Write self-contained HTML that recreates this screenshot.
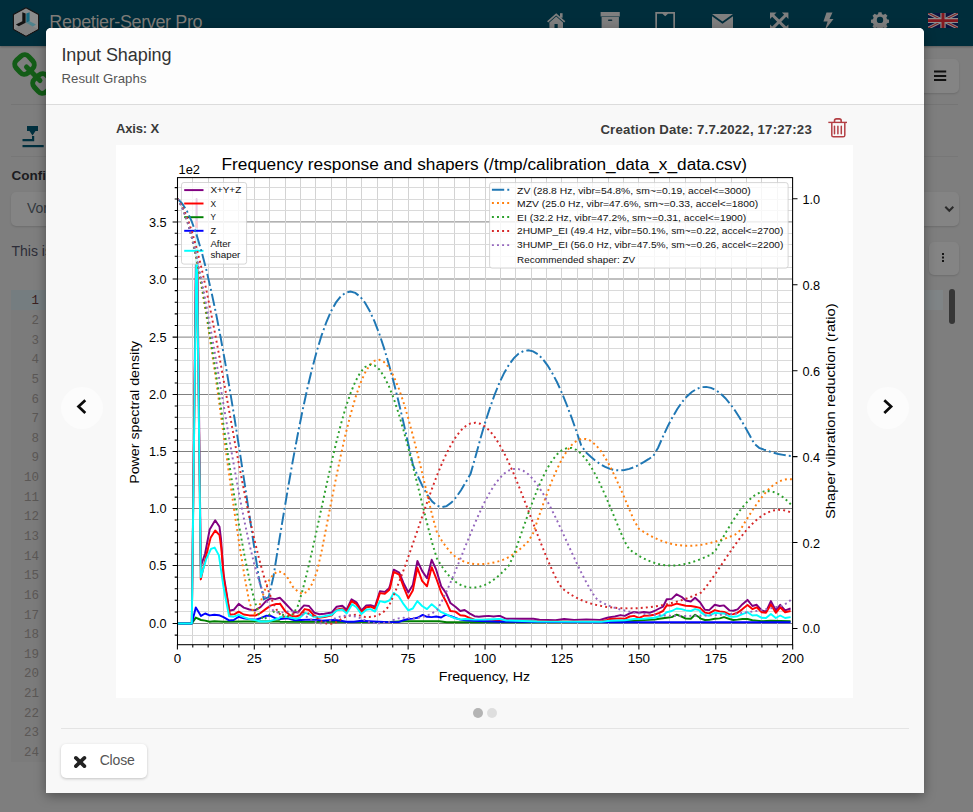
<!DOCTYPE html>
<html><head><meta charset="utf-8"><title>Repetier-Server Pro</title>
<style>
*{box-sizing:border-box;margin:0;padding:0}
html,body{width:973px;height:812px;overflow:hidden}
body{background:#7e7e7e;font-family:"Liberation Sans",sans-serif;position:relative;color:#333}
.abs{position:absolute}
#nav{left:0;top:0;width:973px;height:46px;background:#002d3b;box-shadow:0 1px 2px rgba(0,0,0,.28)}
#brand{left:49.3px;top:10px;font-size:18px;line-height:24px;color:#7f7c78;white-space:nowrap;letter-spacing:-0.38px}
.btn{background:#848484;border-radius:5px;box-shadow:0 1px 2px rgba(0,0,0,.14)}
.hr{height:1px;background:#757575}
.ln{left:9px;width:30px;text-align:right;font-family:"Liberation Mono",monospace;font-size:12.5px;line-height:14px;color:#5b5856}
#modal{left:46px;top:28px;width:878px;height:765px;background:#f8f8f8;border-radius:5px 5px 0 0;box-shadow:0 3px 12px rgba(0,0,0,.36);overflow:hidden}
#mhead{left:0;top:0;width:878px;height:77px;background:#fdfdfd;border-bottom:1px solid #dcdcdc}
#mtitle{left:15.4px;top:15.7px;font-size:18px;line-height:22px;color:#333;white-space:nowrap;letter-spacing:-0.08px}
#msub{left:15.4px;top:42.5px;font-size:13.2px;line-height:16px;color:#555;white-space:nowrap;letter-spacing:0.07px}
.lbl{font-size:13px;font-weight:bold;color:#3a3a3a;line-height:16px;white-space:nowrap}
.circ{width:42px;height:42px;border-radius:21px;background:#fcfcfc}
#close{left:61px;top:744px;width:86px;height:34px;background:#fff;border-radius:5px;box-shadow:0 1px 3px rgba(0,0,0,.22)}
</style></head>
<body>
<!-- dimmed application behind modal -->
<div id="nav" class="abs"></div>
<svg class="abs" style="left:8px;top:4px" width="40" height="38" viewBox="8 4 40 38">
 <polygon points="26,7.700 38.600,14.600 38.600,29.200 26,36.200 13.400,29.200 13.400,14.600" fill="#8b8b8b" stroke="#161212" stroke-width="1.100" stroke-linejoin="round"/>
 <polygon points="14.200,29 26,22.600 37.800,29 26,35.400" fill="#808080"/>
 <path d="M22.300 12.200L25.600 13.600V22.800L18.800 26.300L15.900 24.600L22.300 21.300z" fill="#121212"/>
 <path d="M26.300 13.600L29.600 12.200V21.200L26.300 22.800z" fill="#17687f"/>
 <path d="M26.300 22.800L29.600 21.200L36 24.600L32.800 26.400z" fill="#3f7f8c" fill-opacity="0.800"/>
</svg>
<div id="brand" class="abs">Repetier-Server Pro</div>
<!-- nav icons -->
<svg class="abs" style="left:540px;top:8px" width="433" height="30" viewBox="540 8 433 30" fill="#7f7f7f">
 <path d="M556.200 13.200L565.300 21.200L564.200 22.400L556.200 15.400L548.200 22.400L547.100 21.200z"/>
 <path d="M556.200 16.600L563 22.600V30H557.700V24H554.500V30H549.400V22.600z"/>
 <rect x="560" y="13.200" width="2.600" height="4.500"/>
 <path d="M600.600 12h19.200v4.500h-19.200zM601.600 17.100h17.300V30h-17.300z"/>
 <rect x="608" y="19.400" width="4.300" height="1.500" rx="0.700" fill="#15303b"/>
 <path d="M655.300 12h19.700v18h-19.700zM657 13.700v14.600h16.300V13.700h-5.300l-2.800 2.600l-2.800-2.600z" fill-rule="evenodd"/>
 <path d="M712 14h21l-10.500 7.500zM712 16.200l10.500 7.500l10.500-7.500V29h-21z"/>
 <path d="M770 12.500h6.500l-2.200 2.200l4.900 4.900l4.900-4.900l-2.200-2.200h6.500v6.500l-2.200-2.200l-4.900 4.900l4.900 4.900l2.200-2.200v6.500h-6.500l2.200-2.200l-4.900-4.900l-4.900 4.900l2.200 2.200h-6.500v-6.500l2.200 2.200l4.900-4.900l-4.900-4.900l-2.200 2.200z"/>
 <path d="M826.500 12.500h6l-3 6.500h4l-8.500 11l2.600-8.500h-4.200z"/>
 <g transform="translate(880 19.9) scale(0.86) translate(-880 -21)"><path d="M878.200 12h3.600l.5 2.300l1.900.8l2-1.300l2.500 2.500l-1.300 2l.8 1.900l2.300.5v3.600l-2.300.5l-.8 1.900l1.300 2l-2.500 2.500l-2-1.300l-1.900.8l-.5 2.300h-3.600l-.5-2.300l-1.900-.8l-2 1.300l-2.500-2.500l1.300-2l-.8-1.900l-2.300-.5v-3.600l2.300-.5l.8-1.900l-1.300-2l2.500-2.500l2 1.300l1.900-.8zM880 17.300a3.700 3.700 0 1 0 0 7.400a3.700 3.700 0 1 0 0-7.400z" fill-rule="evenodd"/></g>
</svg>
<!-- flag -->
<svg class="abs" style="left:928px;top:12.7px" width="30" height="15.2" viewBox="0 0 60 32" preserveAspectRatio="none">
 <rect width="60" height="32" fill="#0a1440"/>
 <path d="M0 0L60 32M60 0L0 32" stroke="#8c8c8c" stroke-width="6.500"/>
 <path d="M0 0L60 32M60 0L0 32" stroke="#7c1d22" stroke-width="2.200"/>
 <path d="M30 0V32M0 16H60" stroke="#8c8c8c" stroke-width="10.500"/>
 <path d="M30 0V32M0 16H60" stroke="#83181f" stroke-width="6"/>
</svg>
<!-- left column -->
<svg class="abs" style="left:10px;top:50px" width="40" height="50" viewBox="10 50 40 50" fill="none" stroke="#135c17" stroke-width="5">
 <rect x="16" y="56" width="17" height="17" rx="5.500" transform="rotate(-42 24.500 64.500)"/>
 <rect x="34" y="75" width="17" height="17" rx="5.500" transform="rotate(-42 42.500 83.500)"/>
 <path d="M26.5 67L40 80.5" stroke-linecap="round"/>
</svg>
<div class="abs hr" style="left:11px;top:104px;width:36px"></div>
<svg class="abs" style="left:20px;top:124px" width="26" height="26" viewBox="20 124 26 26" fill="#00303f">
 <path d="M27 126h11v5h-2.500l-3 4.500l-3-4.500H27z"/>
 <path d="M22.500 139h9.500v-3h2.200v5.200H22.500z"/>
 <rect x="22.500" y="145" width="21.200" height="2.200"/>
</svg>
<div class="abs hr" style="left:11px;top:156px;width:36px;background:#777"></div>
<div class="abs" style="left:11.500px;top:168px;font-size:13.500px;font-weight:bold;color:#1b1b20;line-height:16px">Config</div>
<div class="abs btn" style="left:11px;top:192px;width:60px;height:34px"></div>
<div class="abs" style="left:27px;top:199.3px;font-size:14px;color:#33393f;line-height:18px">Vor</div>
<div class="abs" style="left:11.5px;top:241.5px;font-size:14px;color:#2d2d38;line-height:18px;white-space:nowrap">This is</div>
<div class="abs" style="left:11px;top:290px;width:36px;height:472px;background:#7b7b7b"></div>
<div class="abs" style="left:11px;top:290px;width:36px;height:20px;background:#757d80"></div>
<div class="abs" style="left:924px;top:290px;width:19px;height:20px;background:#7f8486"></div>
<div class="abs ln" style="top:294.45px;color:#3a2020">1</div>
<div class="abs ln" style="top:314.08px;color:#5b5856">2</div>
<div class="abs ln" style="top:333.71px;color:#5b5856">3</div>
<div class="abs ln" style="top:353.34px;color:#5b5856">4</div>
<div class="abs ln" style="top:372.97px;color:#5b5856">5</div>
<div class="abs ln" style="top:392.60px;color:#5b5856">6</div>
<div class="abs ln" style="top:412.23px;color:#5b5856">7</div>
<div class="abs ln" style="top:431.86px;color:#5b5856">8</div>
<div class="abs ln" style="top:451.49px;color:#5b5856">9</div>
<div class="abs ln" style="top:471.12px;color:#5b5856">10</div>
<div class="abs ln" style="top:490.75px;color:#5b5856">11</div>
<div class="abs ln" style="top:510.38px;color:#5b5856">12</div>
<div class="abs ln" style="top:530.01px;color:#5b5856">13</div>
<div class="abs ln" style="top:549.64px;color:#5b5856">14</div>
<div class="abs ln" style="top:569.27px;color:#5b5856">15</div>
<div class="abs ln" style="top:588.90px;color:#5b5856">16</div>
<div class="abs ln" style="top:608.53px;color:#5b5856">17</div>
<div class="abs ln" style="top:628.16px;color:#5b5856">18</div>
<div class="abs ln" style="top:647.79px;color:#5b5856">19</div>
<div class="abs ln" style="top:667.42px;color:#5b5856">20</div>
<div class="abs ln" style="top:687.05px;color:#5b5856">21</div>
<div class="abs ln" style="top:706.68px;color:#5b5856">22</div>
<div class="abs ln" style="top:726.31px;color:#5b5856">23</div>
<div class="abs ln" style="top:745.94px;color:#5b5856">24</div>
<!-- right column -->
<div class="abs btn" style="left:900px;top:59px;width:58.500px;height:34px"></div>
<svg class="abs" style="left:934px;top:70px" width="13" height="12" viewBox="0 0 13 12"><path d="M0 1.600h12.200M0 5.900h12.200M0 10.100h12.200" stroke="#111" stroke-width="2"/></svg>
<div class="abs hr" style="left:900px;top:104px;width:58px"></div>
<div class="abs hr" style="left:900px;top:156px;width:58px;background:#777"></div>
<div class="abs btn" style="left:900px;top:192px;width:58.500px;height:34px"></div>
<svg class="abs" style="left:944px;top:205px" width="11" height="8" viewBox="0 0 11 8"><path d="M1.300 1.800L5.300 5.800L9.300 1.800" stroke="#2a2a2a" stroke-width="2" fill="none"/></svg>
<div class="abs btn" style="left:929px;top:242px;width:29.500px;height:32.500px"></div>
<svg class="abs" style="left:941px;top:252px" width="4" height="11" viewBox="0 0 4 11" fill="#151515"><rect x="1" y="1" width="2" height="2"/><rect x="1" y="4.500" width="2" height="2"/><rect x="1" y="8" width="2" height="2"/></svg>
<div class="abs" style="left:949px;top:289px;width:6px;height:35px;border-radius:3px;background:#363636"></div>

<!-- modal -->
<div id="modal" class="abs">
 <div id="mhead" class="abs"></div>
 <div id="mtitle" class="abs">Input Shaping</div>
 <div id="msub" class="abs">Result Graphs</div>
</div>
<div class="abs lbl" style="left:115.9px;top:121.2px;letter-spacing:-0.14px">Axis: X</div>
<div class="abs lbl" style="left:600.4px;top:121.5px;font-size:13.2px;letter-spacing:0.19px">Creation Date: 7.7.2022, 17:27:23</div>
<svg class="abs" style="left:826px;top:116px" width="24" height="24" viewBox="826 116 24 24" fill="none" stroke="#b33f44">
 <path d="M828.300 122.400H847" stroke-width="1.400"/>
 <path d="M834.500 122.200V120.800Q834.500 118.900 836.500 118.900H839.200Q841.200 118.900 841.200 120.800V122.200" stroke-width="1.600"/>
 <path d="M831.800 122.500V135.200Q831.800 136.800 833.400 136.800H843.200Q844.800 136.800 844.800 135.200V122.500" stroke-width="1.500"/>
 <path d="M834.500 126.300V133.700M837.900 126.300V133.700M841.300 126.300V133.700" stroke-width="1.500" stroke-linecap="round"/>
</svg>
<svg id="chart" width="737" height="553" viewBox="116 145 737 553" style="position:absolute;left:116px;top:145px;font-family:'Liberation Sans',sans-serif">
<rect x="116" y="145" width="737" height="553" fill="#fff"/>
<defs><clipPath id="cp"><rect x="177.5" y="177.6" width="615.1" height="467.1"/></clipPath></defs>
<path d="M177.5 623.50H792.6M177.5 565.50H792.6M177.5 508.50H792.6M177.5 451.50H792.6M177.5 394.50H792.6M177.5 337.10H792.6M177.5 279.00H792.6M177.5 221.90H792.6" stroke="#808080" stroke-width="1.0" fill="none"/>
<path d="M177.50 177.6V644.7M192.50 177.6V644.7M208.50 177.6V644.7M223.50 177.6V644.7M238.50 177.6V644.7M254.50 177.6V644.7M269.50 177.6V644.7M285.50 177.6V644.7M300.50 177.6V644.7M315.50 177.6V644.7M331.50 177.6V644.7M346.50 177.6V644.7M361.50 177.6V644.7M377.50 177.6V644.7M392.50 177.6V644.7M408.50 177.6V644.7M423.50 177.6V644.7M438.50 177.6V644.7M454.50 177.6V644.7M469.50 177.6V644.7M485.50 177.6V644.7M500.50 177.6V644.7M515.50 177.6V644.7M531.50 177.6V644.7M546.50 177.6V644.7M561.50 177.6V644.7M577.50 177.6V644.7M592.50 177.6V644.7M608.50 177.6V644.7M623.50 177.6V644.7M638.50 177.6V644.7M654.50 177.6V644.7M669.50 177.6V644.7M685.50 177.6V644.7M700.50 177.6V644.7M715.50 177.6V644.7M731.50 177.6V644.7M746.50 177.6V644.7M761.50 177.6V644.7M777.50 177.6V644.7M792.50 177.6V644.7" stroke="#d3d3d3" stroke-width="1.0" fill="none"/>
<path d="M177.5 635.50H792.6M177.5 611.50H792.6M177.5 600.50H792.6M177.5 588.50H792.6M177.5 577.50H792.6M177.5 554.50H792.6M177.5 542.50H792.6M177.5 531.50H792.6M177.5 519.50H792.6M177.5 497.50H792.6M177.5 485.50H792.6M177.5 474.50H792.6M177.5 462.50H792.6M177.5 440.50H792.6M177.5 428.50H792.6M177.5 417.50H792.6M177.5 405.50H792.6M177.5 383.50H792.6M177.5 371.50H792.6M177.5 360.50H792.6M177.5 348.50H792.6M177.5 325.50H792.6M177.5 313.50H792.6M177.5 302.50H792.6M177.5 290.50H792.6M177.5 267.50H792.6M177.5 256.50H792.6M177.5 244.50H792.6M177.5 233.50H792.6M177.5 210.50H792.6M177.5 199.50H792.6M177.5 187.50H792.6" stroke="#dadada" stroke-width="1.0" fill="none"/>
<g clip-path="url(#cp)" fill="none" stroke-width="1.95" stroke-linejoin="round" stroke-linecap="butt">
<polyline stroke="#800080" points="177.4,623.5 191.8,623.5 196.6,199.0 200.8,566.5 205.1,553.5 209.7,529.5 215.2,520.3 219.5,526.8 221.0,538.8 223.5,573.8 229.4,610.8 233.7,609.8 238.7,603.8 243.8,607.6 249.4,609.5 254.9,610.4 260.5,607.1 266.0,601.2 270.6,598.4 275.2,599.1 278.9,598.0 280.0,597.8 284.9,603.0 293.6,612.2 297.9,612.2 304.0,605.4 309.0,606.0 314.5,612.8 319.5,614.3 324.4,613.7 331.8,612.5 336.7,606.7 342.3,605.8 346.6,609.7 351.5,599.3 356.5,602.3 361.4,610.4 366.3,605.4 370.6,605.2 375.0,606.7 379.9,591.2 384.8,591.9 389.1,588.2 390.0,585.7 393.7,569.7 399.2,572.7 403.6,583.2 408.3,592.5 412.8,585.1 417.4,561.0 422.1,570.9 427.0,578.3 431.7,559.8 436.2,569.7 441.2,586.3 446.1,593.1 450.4,603.0 455.4,606.7 460.3,611.0 464.6,610.0 469.5,613.4 474.5,616.2 478.8,616.8 483.7,616.3 488.7,615.9 493.6,616.5 498.5,615.9 500.0,615.9 506.2,618.8 533.3,618.8 539.5,619.6 555.5,620.2 564.1,619.0 574.0,619.9 586.3,619.4 599.9,619.9 607.3,617.8 610.0,617.1 614.9,616.5 620.5,615.1 624.8,615.9 629.7,613.4 634.0,612.0 639.0,612.8 643.9,612.0 649.5,612.8 654.4,611.0 659.3,608.5 663.0,606.7 666.7,599.3 671.7,598.9 676.6,594.3 681.5,596.8 685.8,600.5 690.8,601.5 695.1,597.8 700.0,602.3 700.0,602.3 704.9,609.7 709.2,610.1 714.8,604.8 719.7,606.0 724.0,605.4 729.6,610.4 733.3,610.7 737.6,609.4 742.5,604.2 747.5,599.9 752.4,606.0 756.7,604.8 761.7,610.4 766.0,611.6 770.9,601.1 775.8,610.4 780.2,604.8 785.1,610.4 790.6,608.5"/>
<polyline stroke="#ff0000" points="177.4,623.5 191.8,623.5 196.6,221.9 200.8,579.4 206.2,555.4 210.6,537.8 215.2,530.5 219.5,535.1 221.3,548.0 223.9,579.4 230.0,614.8 234.6,614.1 238.7,611.7 243.8,614.5 249.4,615.4 255.8,615.4 260.5,613.0 266.0,608.9 270.6,605.6 276.2,603.9 279.3,603.9 280.0,603.6 285.5,611.6 291.1,615.9 296.0,616.5 299.7,615.3 304.7,609.1 309.0,610.0 313.9,615.3 318.2,617.8 324.4,617.1 331.8,615.3 336.7,609.7 342.3,608.5 346.6,612.2 351.5,601.1 356.5,604.2 361.4,612.2 366.3,607.3 370.6,606.7 375.0,608.5 379.9,593.1 384.8,593.7 389.1,590.0 390.0,588.2 393.7,571.9 399.2,574.6 403.6,586.9 408.3,598.3 412.8,590.6 417.4,567.8 422.1,580.8 427.0,586.3 431.7,567.2 436.2,578.3 441.2,592.5 446.1,601.7 450.4,611.0 455.4,611.6 460.3,615.3 464.6,615.7 469.5,617.8 474.5,619.6 478.8,620.0 488.7,619.6 498.5,620.2 500.0,620.5 507.4,621.2 599.9,621.7 607.3,620.0 610.0,619.0 620.5,618.4 624.8,618.8 629.7,616.5 634.0,615.9 639.0,617.8 643.9,615.9 649.5,615.5 654.4,614.7 659.3,612.8 663.0,611.0 666.7,605.4 671.7,605.4 676.6,603.6 681.5,604.8 685.8,605.7 690.8,606.0 695.1,606.7 700.0,607.9 700.0,607.9 704.9,612.6 709.2,613.4 714.8,610.1 719.7,611.4 724.0,612.0 729.6,614.4 733.3,614.1 737.6,612.8 742.5,609.1 747.5,605.1 752.4,609.1 756.7,607.3 761.7,612.2 766.0,612.8 770.9,604.6 775.8,612.8 780.2,607.3 785.1,612.2 790.6,611.0"/>
<polyline stroke="#008000" points="177.4,623.5 191.8,623.5 195.8,617.6 201.0,620.0 205.1,620.6 209.7,621.8 214.3,621.3 223.5,621.8 243.8,621.5 279.3,621.3 280.0,621.7 389.1,622.0 390.0,622.0 404.8,621.2 439.3,621.2 446.7,622.2 498.5,622.2 500.0,622.2 609.8,622.1 610.0,621.7 634.7,620.8 643.9,620.0 654.4,619.6 659.3,618.8 666.7,617.8 671.7,617.1 676.6,614.7 681.5,616.5 685.8,618.6 690.8,618.8 695.1,614.7 700.0,617.8 700.0,618.4 704.9,620.0 709.2,619.9 714.8,618.8 719.7,618.4 724.0,617.1 729.6,619.0 733.3,620.0 737.6,619.6 742.5,619.0 747.5,619.0 752.4,620.2 756.7,620.6 761.7,621.2 770.9,620.8 790.6,621.2"/>
<polyline stroke="#0000ff" points="177.4,623.5 191.8,623.5 195.8,607.4 201.0,615.9 205.1,613.5 209.7,615.4 214.3,614.8 218.9,615.2 223.5,617.2 229.1,620.4 233.7,620.0 238.7,616.7 243.8,618.2 249.4,619.1 255.8,619.6 260.5,618.2 266.0,615.8 270.6,615.9 275.2,618.2 279.3,619.1 280.0,619.0 287.4,618.4 294.8,620.2 301.0,620.0 309.6,619.6 317.0,619.9 321.9,620.8 329.3,620.2 334.3,620.0 339.2,620.5 346.6,621.7 354.0,621.7 361.4,620.8 368.8,621.2 378.7,621.7 389.1,622.1 390.0,622.1 398.6,622.1 403.6,620.2 408.3,619.0 412.8,618.6 417.4,617.8 422.7,614.9 427.0,616.8 431.7,617.1 436.2,616.5 441.2,617.5 445.5,614.9 450.4,615.9 455.4,618.0 460.3,619.6 465.2,620.2 473.9,620.8 498.5,621.7 500.0,621.8 609.8,622.2 610.0,622.2 700.0,622.2 700.0,622.2 790.6,622.2"/>
<polyline stroke="#00ffff" points="177.4,623.5 191.8,623.5 196.6,228.8 200.8,577.2 206.2,559.1 211.0,548.9 214.7,547.6 218.9,555.4 223.5,586.8 229.1,616.3 233.7,616.7 238.7,614.8 243.8,617.2 249.4,619.1 254.9,620.0 260.5,621.5 266.0,621.5 270.6,620.9 276.2,619.1 279.3,618.2 280.0,617.1 286.2,616.8 291.1,617.8 296.0,618.8 299.7,617.8 305.3,612.8 309.0,614.1 313.9,616.9 319.5,617.1 324.4,616.3 331.8,614.7 336.7,610.4 342.3,609.5 346.6,613.4 352.1,604.2 356.5,607.3 361.4,614.1 366.3,609.7 370.6,609.1 375.0,611.6 379.9,601.1 384.8,602.3 389.1,600.5 390.0,599.9 393.7,592.9 398.6,596.2 403.6,604.2 408.3,610.4 412.8,608.5 417.4,601.1 422.1,606.0 427.0,609.1 431.7,604.2 436.2,607.9 441.2,612.2 446.1,614.1 450.4,616.5 455.4,618.4 460.3,619.4 465.2,619.0 473.9,619.6 483.7,619.6 498.5,619.0 500.0,619.0 506.2,620.5 537.0,621.5 601.1,621.7 610.0,620.8 624.8,620.2 634.0,619.0 643.9,618.8 654.4,617.8 663.0,615.3 666.7,612.2 671.7,611.0 676.6,608.5 681.5,609.1 685.8,610.4 690.8,611.0 695.1,609.1 700.0,610.4 700.0,611.6 704.9,615.1 709.2,615.7 714.8,612.8 719.7,613.4 724.0,613.4 729.6,616.5 733.3,616.8 737.6,616.2 742.5,614.1 747.5,612.2 752.4,615.5 756.7,615.1 761.7,617.8 766.0,618.0 770.9,614.1 775.8,618.0 780.2,615.5 785.1,618.0 790.6,617.1"/>
</g>
<rect x="181.5" y="182.5" width="65.1" height="81.6" rx="2.4" fill="#fff" fill-opacity="0.8" stroke="#ccc" stroke-opacity="0.8" stroke-width="1"/>
<path d="M184.2 190.1H203.5" stroke="#800080" stroke-width="1.95"/>
<path d="M184.2 203.5H203.5" stroke="#ff0000" stroke-width="1.95"/>
<path d="M184.2 217.2H203.5" stroke="#008000" stroke-width="1.95"/>
<path d="M184.2 230.8H203.5" stroke="#0000ff" stroke-width="1.95"/>
<path d="M184.2 250.8H203.5" stroke="#00ffff" stroke-width="1.95"/>
<text x="210.4" y="192.9" font-size="9.9" fill="#111" textLength="30.8" lengthAdjust="spacingAndGlyphs">X+Y+Z</text>
<text x="210.4" y="206.5" font-size="9.9" fill="#111" textLength="5.6" lengthAdjust="spacingAndGlyphs">X</text>
<text x="210.4" y="220.3" font-size="9.9" fill="#111" textLength="5.4" lengthAdjust="spacingAndGlyphs">Y</text>
<text x="210.4" y="233.8" font-size="9.9" fill="#111" textLength="5.6" lengthAdjust="spacingAndGlyphs">Z</text>
<text x="210.4" y="246.8" font-size="9.9" fill="#111" textLength="20.3" lengthAdjust="spacingAndGlyphs">After</text>
<text x="210.4" y="257.8" font-size="9.9" fill="#111" textLength="30.0" lengthAdjust="spacingAndGlyphs">shaper</text>
<g clip-path="url(#cp)" fill="none" stroke-width="1.95">
<polyline stroke="#1f77b4" stroke-dasharray="12.3 3.1 1.95 3.1" points="177.4,198.8 182.2,203.5 187.0,211.1 191.8,221.7 196.6,234.9 201.4,250.9 206.2,269.3 211.0,290.0 215.9,312.9 220.7,337.8 225.5,364.4 230.3,392.6 235.1,422.0 239.9,452.6 244.7,484.0 249.5,515.9 254.3,548.0 259.1,579.3 263.9,599.2 268.7,597.1 273.5,576.2 278.3,546.1 283.2,516.6 288.0,488.0 292.8,460.8 297.6,435.2 302.4,411.2 307.2,389.1 312.0,369.0 316.8,351.1 321.6,335.3 326.4,322.0 331.2,311.0 336.0,302.4 340.8,296.3 345.6,292.7 350.5,291.6 355.3,292.9 360.1,296.6 364.9,302.6 369.7,310.9 374.5,321.4 379.3,333.8 384.1,348.3 388.9,364.4 393.7,382.2 398.5,401.4 403.3,421.8 408.1,443.1 412.9,464.8 417.8,476.2 422.6,486.4 427.4,495.1 432.2,501.6 437.0,505.7 441.8,507.2 446.6,506.1 451.4,502.6 456.2,497.1 461.0,490.2 465.8,482.2 470.6,473.8 475.4,457.0 480.2,439.4 485.0,422.9 489.9,407.9 494.7,394.5 499.5,382.7 504.3,372.7 509.1,364.5 513.9,358.1 518.7,353.6 523.5,351.0 528.3,350.3 533.1,351.4 537.9,354.3 542.7,359.0 547.5,365.3 552.3,373.2 557.2,382.5 562.0,393.2 566.8,405.0 571.6,417.7 576.4,431.3 581.2,445.4 586.0,452.4 590.8,456.8 595.6,460.8 600.4,464.2 605.2,466.9 610.0,468.9 614.8,470.1 619.6,470.4 624.5,470.0 629.3,468.9 634.1,467.2 638.9,464.9 643.7,462.2 648.5,459.2 653.3,456.0 658.1,447.7 662.9,436.7 667.7,426.4 672.5,417.2 677.3,409.0 682.1,402.1 686.9,396.4 691.8,392.0 696.6,388.9 701.4,387.2 706.2,386.9 711.0,387.9 715.8,390.1 720.6,393.6 725.4,398.2 730.2,403.9 735.0,410.5 739.8,418.0 744.6,426.1 749.4,434.7 754.2,443.7 759.1,447.8 763.9,449.6 768.7,451.2 773.5,452.7 778.3,454.0 783.1,454.9 787.9,455.7 792.7,456.1"/>
<polyline stroke="#ff7f0e" stroke-dasharray="1.95 3.15" points="177.4,198.8 182.2,206.8 187.0,219.9 191.8,237.7 196.6,259.7 201.4,285.5 206.2,314.4 211.0,345.9 215.9,379.2 220.7,413.6 225.5,448.5 230.3,482.9 235.1,516.4 239.9,548.1 244.7,577.4 249.5,603.1 254.3,613.7 259.1,606.8 263.9,592.2 268.7,581.0 273.5,574.0 278.3,571.2 283.2,572.8 288.0,578.4 292.8,586.7 297.6,591.3 302.4,593.9 307.2,591.8 312.0,584.1 316.8,572.3 321.6,551.3 326.4,526.8 331.2,502.2 336.0,478.2 340.8,455.4 345.6,434.0 350.5,414.8 355.3,398.0 360.1,383.9 364.9,373.0 369.7,365.2 374.5,360.8 379.3,359.7 384.1,362.1 388.9,367.6 393.7,376.2 398.5,387.7 403.3,401.6 408.1,417.8 412.9,435.6 417.8,454.8 422.6,474.8 427.4,495.2 432.2,515.3 437.0,532.6 441.8,540.7 446.6,547.6 451.4,553.1 456.2,557.4 461.0,560.4 465.8,562.4 470.6,563.5 475.4,564.1 480.2,564.2 485.0,563.9 489.9,563.3 494.7,562.4 499.5,561.1 504.3,559.3 509.1,556.9 513.9,553.8 518.7,550.2 523.5,546.0 528.3,541.4 533.1,533.3 537.9,519.3 542.7,505.5 547.5,492.3 552.3,479.9 557.2,468.7 562.0,459.1 566.8,451.1 571.6,445.1 576.4,441.0 581.2,438.9 586.0,438.9 590.8,440.9 595.6,444.8 600.4,450.4 605.2,457.7 610.0,466.3 614.8,476.1 619.6,486.7 624.5,497.9 629.3,509.3 634.1,520.5 638.9,528.9 643.7,531.9 648.5,534.8 653.3,537.3 658.1,539.5 662.9,541.4 667.7,543.0 672.5,544.1 677.3,545.0 682.1,545.5 686.9,545.8 691.8,545.7 696.6,545.4 701.4,544.8 706.2,543.9 711.0,542.8 715.8,541.5 720.6,540.0 725.4,538.4 730.2,536.6 735.0,534.7 739.8,530.7 744.6,522.8 749.4,515.1 754.2,507.6 759.1,500.7 763.9,494.5 768.7,489.2 773.5,484.9 778.3,481.8 783.1,479.8 787.9,479.0 792.7,479.4"/>
<polyline stroke="#2ca02c" stroke-dasharray="1.95 3.15" points="177.4,198.8 182.2,207.0 187.0,220.0 191.8,237.5 196.6,258.9 201.4,283.8 206.2,311.6 211.0,341.7 215.9,373.3 220.7,405.8 225.5,438.5 230.3,470.5 235.1,501.4 239.9,530.3 244.7,556.8 249.5,580.2 254.3,599.9 259.1,614.8 263.9,619.8 268.7,615.2 273.5,611.8 278.3,611.9 283.2,615.0 288.0,616.5 292.8,614.2 297.6,606.7 302.4,590.9 307.2,572.0 312.0,551.4 316.8,529.8 321.6,507.6 326.4,485.4 331.2,463.9 336.0,443.4 340.8,424.6 345.6,407.7 350.5,393.3 355.3,381.6 360.1,372.8 364.9,367.2 369.7,364.7 374.5,365.5 379.3,369.4 384.1,376.4 388.9,386.2 393.7,398.5 398.5,413.0 403.3,429.5 408.1,447.3 412.9,466.2 417.8,485.7 422.6,505.3 427.4,524.6 432.2,543.1 437.0,558.7 441.8,566.4 446.6,573.0 451.4,578.2 456.2,582.3 461.0,585.1 465.8,586.8 470.6,587.6 475.4,587.5 480.2,586.5 485.0,584.8 489.9,582.3 494.7,579.0 499.5,575.0 504.3,570.3 509.1,565.2 513.9,554.7 518.7,541.0 523.5,527.1 528.3,513.5 533.1,500.4 537.9,488.3 542.7,477.5 547.5,468.0 552.3,460.2 557.2,454.2 562.0,450.2 566.8,448.1 571.6,448.0 576.4,449.9 581.2,453.7 586.0,459.2 590.8,466.4 595.6,474.9 600.4,484.6 605.2,495.2 610.0,506.5 614.8,518.1 619.6,529.7 624.5,541.2 629.3,549.4 634.1,552.7 638.9,555.8 643.7,558.4 648.5,560.7 653.3,562.5 658.1,564.0 662.9,564.9 667.7,565.5 672.5,565.6 677.3,565.3 682.1,564.6 686.9,563.6 691.8,562.3 696.6,560.7 701.4,558.8 706.2,556.8 711.0,554.7 715.8,550.0 720.6,541.6 725.4,533.2 730.2,525.1 735.0,517.6 739.8,510.7 744.6,504.7 749.4,499.7 754.2,495.7 759.1,493.0 763.9,491.4 768.7,491.1 773.5,492.0 778.3,494.1 783.1,497.3 787.9,501.4 792.7,506.5"/>
<polyline stroke="#d62728" stroke-dasharray="1.95 3.15" points="177.4,198.8 182.2,206.3 187.0,217.1 191.8,231.2 196.6,248.1 201.4,267.6 206.2,289.3 211.0,312.9 215.9,337.9 220.7,363.9 225.5,390.5 230.3,417.2 235.1,443.7 239.9,469.4 244.7,494.2 249.5,517.5 254.3,539.2 259.1,558.9 263.9,576.4 268.7,591.5 273.5,603.8 278.3,612.6 283.2,616.6 288.0,615.9 292.8,613.8 297.6,612.3 302.4,612.1 307.2,613.0 312.0,615.1 316.8,618.0 321.6,621.3 326.4,623.6 331.2,623.8 336.0,622.3 340.8,619.3 345.6,616.9 350.5,615.3 355.3,614.8 360.1,615.6 364.9,616.9 369.7,616.9 374.5,616.3 379.3,614.6 384.1,611.4 388.9,606.1 393.7,595.4 398.5,583.6 403.3,570.9 408.1,557.5 412.9,543.6 417.8,529.5 422.6,515.4 427.4,501.5 432.2,488.1 437.0,475.5 441.8,463.8 446.6,453.3 451.4,444.1 456.2,436.4 461.0,430.3 465.8,426.0 470.6,423.4 475.4,422.7 480.2,423.7 485.0,426.5 489.9,431.0 494.7,437.0 499.5,444.6 504.3,453.4 509.1,463.3 513.9,474.2 518.7,485.9 523.5,498.0 528.3,510.5 533.1,523.1 537.9,535.6 542.7,547.8 547.5,559.5 552.3,570.5 557.2,580.7 562.0,588.2 566.8,591.8 571.6,595.0 576.4,597.7 581.2,600.0 586.0,601.9 590.8,603.5 595.6,604.8 600.4,605.8 605.2,606.7 610.0,607.3 614.8,607.8 619.6,608.1 624.5,608.3 629.3,608.4 634.1,608.3 638.9,608.1 643.7,607.7 648.5,607.3 653.3,606.6 658.1,605.9 662.9,605.0 667.7,604.0 672.5,602.8 677.3,601.5 682.1,600.0 686.9,598.3 691.8,596.5 696.6,594.5 701.4,592.5 706.2,586.7 711.0,580.1 715.8,573.2 720.6,566.1 725.4,558.9 730.2,551.8 735.0,544.9 739.8,538.4 744.6,532.3 749.4,526.8 754.2,521.9 759.1,517.8 763.9,514.5 768.7,512.1 773.5,510.5 778.3,509.8 783.1,510.1 787.9,511.2 792.7,513.2"/>
<polyline stroke="#9467bd" stroke-dasharray="1.95 3.15" points="177.4,198.8 182.2,207.7 187.0,220.6 191.8,237.1 196.6,256.9 201.4,279.5 206.2,304.4 211.0,331.1 215.9,359.1 220.7,387.7 225.5,416.4 230.3,444.8 235.1,472.2 239.9,498.2 244.7,522.5 249.5,544.6 254.3,564.2 259.1,581.1 263.9,594.9 268.7,605.0 273.5,610.9 278.3,612.7 283.2,612.2 288.0,611.4 292.8,611.5 297.6,612.5 302.4,614.5 307.2,617.1 312.0,620.0 316.8,622.6 321.6,623.5 326.4,622.1 331.2,620.0 336.0,617.9 340.8,616.5 345.6,615.7 350.5,615.7 355.3,616.5 360.1,618.0 364.9,620.2 369.7,622.5 374.5,623.1 379.3,623.3 384.1,622.9 388.9,622.0 393.7,619.9 398.5,618.4 403.3,617.8 408.1,618.1 412.9,618.4 417.8,617.9 422.6,617.0 427.4,615.5 432.2,613.2 437.0,610.1 441.8,601.3 446.6,591.3 451.4,580.5 456.2,569.0 461.0,557.3 465.8,545.3 470.6,533.5 475.4,522.1 480.2,511.3 485.0,501.3 489.9,492.3 494.7,484.6 499.5,478.3 504.3,473.5 509.1,470.4 513.9,468.9 518.7,469.1 523.5,470.9 528.3,474.3 533.1,479.2 537.9,485.5 542.7,493.0 547.5,501.5 552.3,510.8 557.2,520.8 562.0,531.2 566.8,541.7 571.6,552.2 576.4,562.5 581.2,572.4 586.0,581.7 590.8,590.2 595.6,597.8 600.4,601.7 605.2,604.0 610.0,606.1 614.8,607.8 619.6,609.3 624.5,610.5 629.3,611.6 634.1,612.5 638.9,613.2 643.7,613.8 648.5,614.4 653.3,614.8 658.1,615.1 662.9,615.4 667.7,615.6 672.5,615.7 677.3,615.8 682.1,615.9 686.9,615.9 691.8,615.8 696.6,615.8 701.4,615.7 706.2,615.5 711.0,615.3 715.8,615.1 720.6,614.8 725.4,614.5 730.2,614.1 735.0,613.7 739.8,613.2 744.6,612.6 749.4,612.0 754.2,611.3 759.1,610.5 763.9,609.6 768.7,608.7 773.5,607.7 778.3,606.6 783.1,605.5 787.9,602.4 792.7,598.3"/>
</g>
<rect x="489.6" y="182.6" width="298.5" height="85.5" rx="2.4" fill="#fff" fill-opacity="0.8" stroke="#ccc" stroke-opacity="0.8" stroke-width="1"/>
<path d="M491.9 189.8H509.4" stroke="#1f77b4" stroke-width="1.95" stroke-dasharray="12.3 3.1 1.95 3.1"/>
<path d="M491.9 203.0H509.4" stroke="#ff7f0e" stroke-width="1.95" stroke-dasharray="1.95 3.15"/>
<path d="M491.9 217.0H509.4" stroke="#2ca02c" stroke-width="1.95" stroke-dasharray="1.95 3.15"/>
<path d="M491.9 231.0H509.4" stroke="#d62728" stroke-width="1.95" stroke-dasharray="1.95 3.15"/>
<path d="M491.9 245.1H509.4" stroke="#9467bd" stroke-width="1.95" stroke-dasharray="1.95 3.15"/>
<text x="517.1" y="194.0" font-size="9.9" fill="#111" textLength="233.7" lengthAdjust="spacingAndGlyphs">ZV (28.8 Hz, vibr=54.8%, sm~=0.19, accel&lt;=3000)</text>
<text x="517.1" y="207.2" font-size="9.9" fill="#111" textLength="241.1" lengthAdjust="spacingAndGlyphs">MZV (25.0 Hz, vibr=47.6%, sm~=0.33, accel&lt;=1800)</text>
<text x="517.1" y="220.9" font-size="9.9" fill="#111" textLength="229.2" lengthAdjust="spacingAndGlyphs">EI (32.2 Hz, vibr=47.2%, sm~=0.31, accel&lt;=1900)</text>
<text x="517.1" y="234.4" font-size="9.9" fill="#111" textLength="266.2" lengthAdjust="spacingAndGlyphs">2HUMP_EI (49.4 Hz, vibr=50.1%, sm~=0.22, accel&lt;=2700)</text>
<text x="517.1" y="248.4" font-size="9.9" fill="#111" textLength="266.2" lengthAdjust="spacingAndGlyphs">3HUMP_EI (56.0 Hz, vibr=47.5%, sm~=0.26, accel&lt;=2200)</text>
<text x="517.1" y="262.6" font-size="9.9" fill="#111" textLength="117.9" lengthAdjust="spacingAndGlyphs">Recommended shaper: ZV</text>
<rect x="177.5" y="177.6" width="615.1" height="467.1" fill="none" stroke="#000" stroke-width="1.05"/>
<path d="M177.40 644.7v4.9M192.78 644.7v2.8M208.16 644.7v2.8M223.55 644.7v2.8M238.93 644.7v2.8M254.31 644.7v4.9M269.69 644.7v2.8M285.08 644.7v2.8M300.46 644.7v2.8M315.84 644.7v2.8M331.23 644.7v4.9M346.61 644.7v2.8M361.99 644.7v2.8M377.37 644.7v2.8M392.75 644.7v2.8M408.14 644.7v4.9M423.52 644.7v2.8M438.90 644.7v2.8M454.28 644.7v2.8M469.67 644.7v2.8M485.05 644.7v4.9M500.43 644.7v2.8M515.81 644.7v2.8M531.20 644.7v2.8M546.58 644.7v2.8M561.96 644.7v4.9M577.35 644.7v2.8M592.73 644.7v2.8M608.11 644.7v2.8M623.49 644.7v2.8M638.88 644.7v4.9M654.26 644.7v2.8M669.64 644.7v2.8M685.02 644.7v2.8M700.40 644.7v2.8M715.79 644.7v4.9M731.17 644.7v2.8M746.55 644.7v2.8M761.93 644.7v2.8M777.32 644.7v2.8M792.70 644.7v4.9M177.5 635.10h-2.8M177.5 623.50h-4.9M177.5 611.90h-2.8M177.5 600.30h-2.8M177.5 588.70h-2.8M177.5 577.10h-2.8M177.5 565.50h-4.9M177.5 554.10h-2.8M177.5 542.70h-2.8M177.5 531.30h-2.8M177.5 519.90h-2.8M177.5 508.50h-4.9M177.5 497.10h-2.8M177.5 485.70h-2.8M177.5 474.30h-2.8M177.5 462.90h-2.8M177.5 451.50h-4.9M177.5 440.10h-2.8M177.5 428.70h-2.8M177.5 417.30h-2.8M177.5 405.90h-2.8M177.5 394.50h-4.9M177.5 383.02h-2.8M177.5 371.54h-2.8M177.5 360.06h-2.8M177.5 348.58h-2.8M177.5 337.10h-4.9M177.5 325.48h-2.8M177.5 313.86h-2.8M177.5 302.24h-2.8M177.5 290.62h-2.8M177.5 279.00h-4.9M177.5 267.58h-2.8M177.5 256.16h-2.8M177.5 244.74h-2.8M177.5 233.32h-2.8M177.5 221.90h-4.9M177.5 210.48h-2.8M177.5 199.06h-2.8M177.5 187.64h-2.8M792.6 628.50h4.9M792.6 542.56h4.9M792.6 456.62h4.9M792.6 370.68h4.9M792.6 284.74h4.9M792.6 198.80h4.9" stroke="#000" stroke-width="1.05" fill="none"/>
<text x="177.4" y="662.5" font-size="13.0" text-anchor="middle" textLength="7.4" lengthAdjust="spacingAndGlyphs">0</text>
<text x="254.3" y="662.5" font-size="13.0" text-anchor="middle" textLength="15.0" lengthAdjust="spacingAndGlyphs">25</text>
<text x="331.2" y="662.5" font-size="13.0" text-anchor="middle" textLength="15.0" lengthAdjust="spacingAndGlyphs">50</text>
<text x="408.1" y="662.5" font-size="13.0" text-anchor="middle" textLength="15.0" lengthAdjust="spacingAndGlyphs">75</text>
<text x="485.0" y="662.5" font-size="13.0" text-anchor="middle" textLength="22.4" lengthAdjust="spacingAndGlyphs">100</text>
<text x="562.0" y="662.5" font-size="13.0" text-anchor="middle" textLength="22.4" lengthAdjust="spacingAndGlyphs">125</text>
<text x="638.9" y="662.5" font-size="13.0" text-anchor="middle" textLength="22.4" lengthAdjust="spacingAndGlyphs">150</text>
<text x="715.8" y="662.5" font-size="13.0" text-anchor="middle" textLength="22.4" lengthAdjust="spacingAndGlyphs">175</text>
<text x="792.7" y="662.5" font-size="13.0" text-anchor="middle" textLength="22.4" lengthAdjust="spacingAndGlyphs">200</text>
<text x="149.0" y="628.2" font-size="13.0" textLength="17.7" lengthAdjust="spacingAndGlyphs">0.0</text>
<text x="149.0" y="570.2" font-size="13.0" textLength="17.7" lengthAdjust="spacingAndGlyphs">0.5</text>
<text x="149.0" y="513.2" font-size="13.0" textLength="17.7" lengthAdjust="spacingAndGlyphs">1.0</text>
<text x="149.0" y="456.2" font-size="13.0" textLength="17.7" lengthAdjust="spacingAndGlyphs">1.5</text>
<text x="149.0" y="399.2" font-size="13.0" textLength="17.7" lengthAdjust="spacingAndGlyphs">2.0</text>
<text x="149.0" y="341.8" font-size="13.0" textLength="17.7" lengthAdjust="spacingAndGlyphs">2.5</text>
<text x="149.0" y="283.7" font-size="13.0" textLength="17.7" lengthAdjust="spacingAndGlyphs">3.0</text>
<text x="149.0" y="226.6" font-size="13.0" textLength="17.7" lengthAdjust="spacingAndGlyphs">3.5</text>
<text x="802.4" y="633.4" font-size="13.0" textLength="17.7" lengthAdjust="spacingAndGlyphs">0.0</text>
<text x="802.4" y="547.5" font-size="13.0" textLength="17.7" lengthAdjust="spacingAndGlyphs">0.2</text>
<text x="802.4" y="461.5" font-size="13.0" textLength="17.7" lengthAdjust="spacingAndGlyphs">0.4</text>
<text x="802.4" y="375.6" font-size="13.0" textLength="17.7" lengthAdjust="spacingAndGlyphs">0.6</text>
<text x="802.4" y="289.6" font-size="13.0" textLength="17.7" lengthAdjust="spacingAndGlyphs">0.8</text>
<text x="802.4" y="203.7" font-size="13.0" textLength="17.7" lengthAdjust="spacingAndGlyphs">1.0</text>
<text x="178.5" y="173.6" font-size="13.0" textLength="21.5" lengthAdjust="spacingAndGlyphs">1e2</text>
<text x="484.4" y="681.1" font-size="13.0" text-anchor="middle" textLength="91.2" lengthAdjust="spacingAndGlyphs">Frequency, Hz</text>
<text transform="translate(139.3 412.3) rotate(-90)" font-size="13.0" text-anchor="middle" textLength="143" lengthAdjust="spacingAndGlyphs">Power spectral density</text>
<text transform="translate(835.3 411.2) rotate(-90)" font-size="13.0" text-anchor="middle" textLength="215.8" lengthAdjust="spacingAndGlyphs">Shaper vibration reduction (ratio)</text>
<text x="484.3" y="170.1" font-size="15.6" text-anchor="middle" textLength="525.5" lengthAdjust="spacingAndGlyphs">Frequency response and shapers (/tmp/calibration_data_x_data.csv)</text>
</svg>
<div class="abs circ" style="left:60.500px;top:386.500px"></div>
<div class="abs circ" style="left:867.200px;top:386.700px"></div>
<svg class="abs" style="left:70px;top:395px" width="24" height="24" viewBox="70 395 24 24" fill="none" stroke="#0a0a0a" stroke-width="2.700"><path d="M85.300 400.200L78.500 406.600L85.300 413"/></svg>
<svg class="abs" style="left:876px;top:395px" width="24" height="24" viewBox="876 395 24 24" fill="none" stroke="#0a0a0a" stroke-width="2.700"><path d="M884.300 400.200L891.100 406.600L884.300 413"/></svg>
<div class="abs" style="left:473px;top:708px;width:10px;height:10px;border-radius:5px;background:#b4b4b4"></div>
<div class="abs" style="left:487px;top:708px;width:10px;height:10px;border-radius:5px;background:#dedede"></div>
<div class="abs" style="left:61px;top:728px;width:848px;height:1px;background:#e4e4e4"></div>
<div id="close" class="abs"></div>
<svg class="abs" style="left:72px;top:754px" width="16" height="16" viewBox="72 754 16 16"><path d="M75.900 757.900L84.400 766.100M84.400 757.900L75.900 766.100" stroke="#222" stroke-width="3.700" stroke-linecap="round"/></svg>
<div class="abs" style="left:99.7px;top:751.7px;font-size:14px;line-height:17px;color:#555;letter-spacing:-0.18px">Close</div>
</body></html>
